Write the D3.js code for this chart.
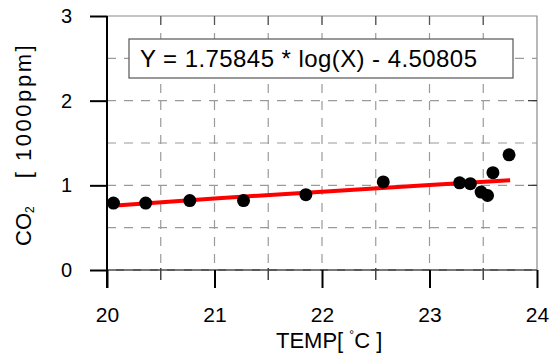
<!DOCTYPE html>
<html>
<head>
<meta charset="utf-8">
<script src="https://cdn.jsdelivr.net/npm/d3@7"></script>
<style>
  html, body { margin: 0; padding: 0; background: #fff; }
  #chart { width: 552px; height: 358px; }
  text { font-family: "Liberation Sans", Arial, sans-serif; fill: #000; }
</style>
</head>
<body>
<div id="chart"></div>
<script>
/* global d3 */

const TEMP = [20.06, 20.36, 20.77, 21.27, 21.85, 22.57, 23.28, 23.38, 23.48, 23.54, 23.59, 23.74];
const CO2 = [0.79, 0.79, 0.82, 0.82, 0.89, 1.04, 1.03, 1.02, 0.92, 0.88, 1.15, 1.36];

// fitted curve, sampled from the red line
const FIT_TEMP = [20.05, 21, 22, 23, 23.75];
const FIT_CO2 = [0.76, 0.845, 0.925, 1.005, 1.06];

const X_TICKS = [20, 21, 22, 23, 24];
const X_MINOR = [20.5, 21.5, 22.5, 23.5];
const Y_TICKS = [0, 1, 2, 3];
const GRID_X = [20.5, 21, 21.5, 22, 22.5, 23, 23.5];
const GRID_Y = [0, 0.5, 1, 1.5, 2, 2.5];

const EQUATION = "Y = 1.75845 * log(X) - 4.50805";

const width = 552;
const height = 358;
const margin = { top: 16, right: 15, bottom: 88, left: 107 };
const innerW = width - margin.left - margin.right;
const innerH = height - margin.top - margin.bottom;

const svg = d3.select("#chart")
  .append("svg")
  .attr("width", width)
  .attr("height", height);

const g = svg.append("g").attr("transform", `translate(${margin.left},${margin.top})`);

const x = d3.scaleLinear().domain([20, 24]).range([0, innerW]);
const y = d3.scaleLinear().domain([0, 3]).range([innerH, 0]);

// frame (top / right, gray)
g.append("path")
  .attr("d", `M0,0H${innerW}V${innerH}`)
  .attr("fill", "none")
  .attr("stroke", "#8a8a8a")
  .attr("stroke-width", 1.2);

// bottom axis line
g.append("line")
  .attr("x1", 0).attr("x2", innerW)
  .attr("y1", innerH).attr("y2", innerH)
  .attr("stroke", "#222")
  .attr("stroke-width", 1.5);

// grid
g.append("g")
  .selectAll("line")
  .data(GRID_X)
  .join("line")
  .attr("x1", (d) => x(d)).attr("x2", (d) => x(d))
  .attr("y1", 0).attr("y2", innerH)
  .attr("stroke", "#9a9a9a")
  .attr("stroke-width", 1.2)
  .attr("stroke-dasharray", "9,8");

g.append("g")
  .selectAll("line")
  .data(GRID_Y)
  .join("line")
  .attr("x1", 0).attr("x2", innerW)
  .attr("y1", (d) => y(d)).attr("y2", (d) => y(d))
  .attr("stroke", "#9a9a9a")
  .attr("stroke-width", 1.2)
  .attr("stroke-dasharray", "9,8");

// top inward ticks
g.append("g")
  .selectAll("line")
  .data(X_MINOR.concat([21, 22, 23]))
  .join("line")
  .attr("x1", (d) => x(d)).attr("x2", (d) => x(d))
  .attr("y1", 0).attr("y2", 9)
  .attr("stroke", "#555")
  .attr("stroke-width", 1.2);

// right inward ticks
g.append("g")
  .selectAll("line")
  .data([1, 2])
  .join("line")
  .attr("x1", innerW - 9).attr("x2", innerW)
  .attr("y1", (d) => y(d)).attr("y2", (d) => y(d))
  .attr("stroke", "#333")
  .attr("stroke-width", 1.2);

// x axis
const xAxis = g.append("g")
  .attr("transform", `translate(0,${innerH})`)
  .call(d3.axisBottom(x).tickValues(X_TICKS).tickSize(18).tickFormat(d3.format("d")));
xAxis.select(".domain").remove();
xAxis.selectAll(".tick line").attr("stroke", "#000").attr("stroke-width", 2);
xAxis.selectAll(".tick text")
  .attr("y", 37)
  .attr("dy", "0.71em")
  .style("font-size", "21px")
  .style("font-family", "Liberation Sans, Arial, sans-serif");

g.append("g")
  .selectAll("line")
  .data(X_MINOR)
  .join("line")
  .attr("x1", (d) => x(d)).attr("x2", (d) => x(d))
  .attr("y1", innerH - 2).attr("y2", innerH + 10)
  .attr("stroke", "#444")
  .attr("stroke-width", 1.5);

// y axis
const yAxis = g.append("g")
  .call(d3.axisLeft(y).tickValues(Y_TICKS).tickSize(17).tickFormat(d3.format("d")));
yAxis.select(".domain").remove();
yAxis.selectAll(".tick line").attr("stroke", "#000").attr("stroke-width", 2);
yAxis.selectAll(".tick text")
  .attr("x", -35)
  .style("font-size", "20px")
  .style("font-family", "Liberation Sans, Arial, sans-serif");

// left axis line (runs down through the 20 tick)
g.append("line")
  .attr("x1", 0).attr("x2", 0)
  .attr("y1", 0).attr("y2", innerH + 18)
  .attr("stroke", "#000")
  .attr("stroke-width", 2);

// fit line
const line = d3.line()
  .x((d, i) => x(FIT_TEMP[i]))
  .y((d) => y(d));

g.append("path")
  .datum(FIT_CO2)
  .attr("d", line)
  .attr("fill", "none")
  .attr("stroke", "#ff0000")
  .attr("stroke-width", 4);

// points
g.append("g")
  .selectAll("circle")
  .data(CO2)
  .join("circle")
  .attr("cx", (d, i) => x(TEMP[i]))
  .attr("cy", (d) => y(d))
  .attr("r", 6.5)
  .attr("fill", "#000");

// equation box
const box = g.append("g").attr("transform", `translate(${129 - margin.left},${39 - margin.top})`);
box.append("rect")
  .attr("width", 384)
  .attr("height", 39)
  .attr("fill", "#fff")
  .attr("stroke", "#555")
  .attr("stroke-width", 1.2);
box.append("text")
  .attr("x", 11)
  .attr("y", 28)
  .attr("textLength", 337)
  .attr("lengthAdjust", "spacing")
  .style("font-size", "24px")
  .text(EQUATION);

// axis titles
const xTitle = svg.append("text")
  .attr("x", 276)
  .attr("y", 348)
  .style("font-size", "22px");
xTitle.append("tspan").text("TEMP[ ");
xTitle.append("tspan").attr("dy", -9).style("font-size", "12px").text("°");
xTitle.append("tspan").attr("dy", 9).attr("dx", 0).text("C ]");

const yTitle = svg.append("text")
  .attr("transform", "translate(31,246) rotate(-90)")
  .style("font-size", "22px");
yTitle.append("tspan").text("CO");
yTitle.append("tspan").attr("dy", 3).style("font-size", "12px").text("2");
yTitle.append("tspan")
  .attr("dy", -3)
  .attr("dx", 28)
  .attr("textLength", 133)
  .attr("lengthAdjust", "spacing")
  .text("[ 1000ppm]");
</script>
</body>
</html>
